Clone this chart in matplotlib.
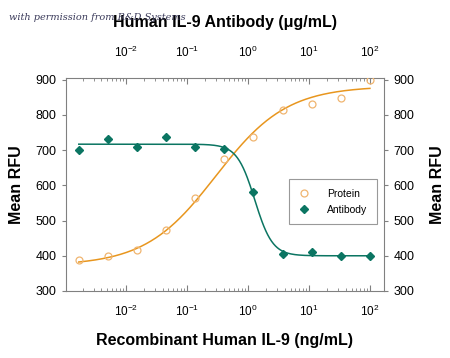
import numpy as np
import matplotlib
matplotlib.use("Agg")
import matplotlib.pyplot as plt

plt.rcParams['font.family'] = ['Liberation Sans', 'DejaVu Sans']
plt.rcParams['mathtext.fontset'] = 'custom'
plt.rcParams['mathtext.rm'] = 'Liberation Sans'

# concentrations (3-fold dilution series, ng/mL and ug/mL share the axis)
conc = [0.0017, 0.0051, 0.0152, 0.0457, 0.137, 0.41, 1.23, 3.7, 11.1, 33.3, 100]
protein = [389, 399, 416, 474, 564, 676, 737, 813, 830, 847, 899]
antibody = [700, 732, 709, 737, 708, 702, 582, 404, 411, 398, 398]

# 4PL fit parameters: bottom, top, EC50, hill
protein_fit = (372, 882, 0.30, 0.75)
antibody_fit = (717, 400, 1.30, 3.0)

def four_pl(x, p):
    b, t, c, h = p
    return b + (t - b) / (1 + (c / x) ** h)

orange = "#E8961E"
orange_mk = "#F0B570"
teal = "#0B7562"
tick_lbls = ["10$^{-2}$", "10$^{-1}$", "10$^{0}$", "10$^{1}$", "10$^{2}$"]

fig = plt.figure(figsize=(4.5, 3.58), dpi=100)
ax = fig.add_axes([0.1467, 0.1872, 0.7066, 0.5949])

xs = np.logspace(np.log10(conc[0]), np.log10(conc[-1]), 300)
ax.plot(xs, four_pl(xs, protein_fit), color=orange, lw=1.1, zorder=2)
ax.plot(xs, four_pl(xs, antibody_fit), color=teal, lw=1.1, zorder=2)
ax.plot(conc, protein, "o", mfc="none", mec=orange_mk, ms=5, mew=0.9,
        label="Protein", zorder=3)
ax.plot(conc, antibody, "D", color=teal, ms=4.5, label="Antibody", zorder=3)

ax.set_xscale("log")
ax.set_xlim(0.00105, 170)
ax.set_ylim(300, 905)
ax.set_yticks([300, 400, 500, 600, 700, 800, 900])
ax.set_xticks([1e-2, 1e-1, 1, 10, 100])
ax.set_xticklabels(tick_lbls)

for s in ax.spines.values():
    s.set_color("#808080")
    s.set_linewidth(0.8)
ax.tick_params(axis="x", which="both", direction="in", colors="#808080",
               labelcolor="black", labelsize=8.5, pad=9, top=True)
ax.tick_params(axis="x", which="major", length=4)
ax.tick_params(axis="x", which="minor", length=2.5)
ax.tick_params(axis="y", direction="out", length=3, colors="#808080",
               labelcolor="black", labelsize=9, left=True, right=True,
               labelright=True, pad=4)

ax.set_ylabel("Mean RFU", fontsize=11.5, fontweight="bold", labelpad=8)
ax.set_xlabel("Recombinant Human IL-9 (ng/mL)", fontsize=11.5,
              fontweight="bold", labelpad=10)

# top axis (antibody concentration, same scale)
top = ax.secondary_xaxis("top")
top.set_xticks([1e-2, 1e-1, 1, 10, 100])
top.set_xticklabels(tick_lbls)
top.tick_params(which="both", direction="in", length=0, labelsize=8.5, pad=13)
top.spines["top"].set_visible(False)
top.set_xlabel("Human IL-9 Antibody (\u03bcg/mL)", fontsize=11.5,
               fontweight="bold", labelpad=13)

# right y label
fig.text(0.972, 0.484, "Mean RFU", rotation=90, ha="center", va="center",
         fontsize=11.5, fontweight="bold")

leg = ax.legend(loc="upper left", bbox_to_anchor=(0.70, 0.525), frameon=True,
                fancybox=False, fontsize=7.5, handlelength=1.2,
                handletextpad=1.6, borderpad=0.9, labelspacing=0.6,
                borderaxespad=0)
leg.get_frame().set_edgecolor("#808080")
leg.get_frame().set_linewidth(0.8)

fig.text(0.02, 0.945, "with permission from R&D Systems", fontsize=7,
         style="italic", family="DejaVu Serif", color="#3A3A5A")

fig.savefig("out.png", dpi=100)
